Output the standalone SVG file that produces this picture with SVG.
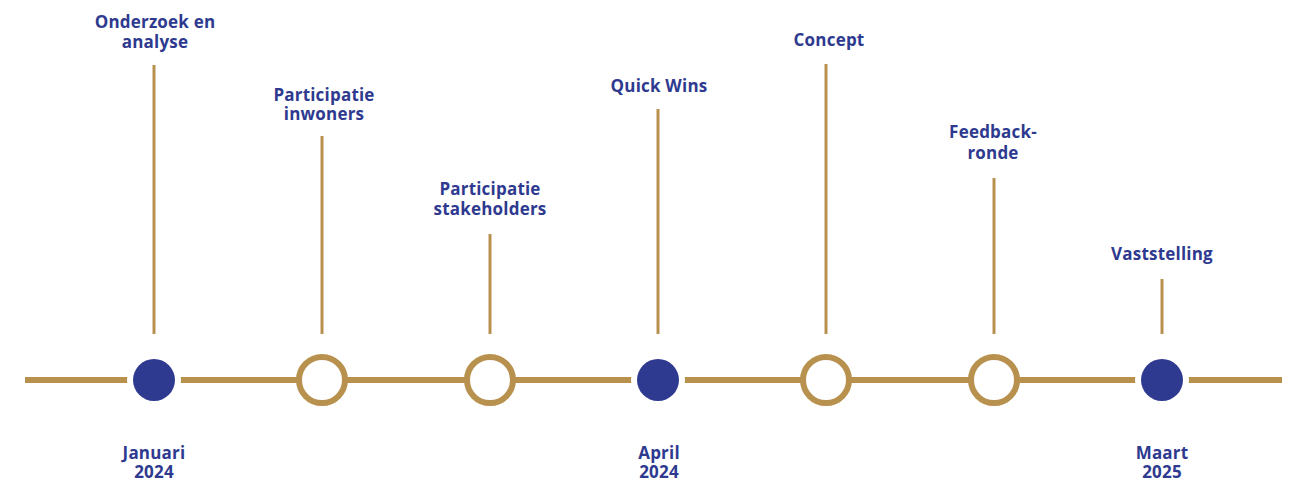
<svg xmlns="http://www.w3.org/2000/svg" width="1290" height="482" viewBox="0 0 1290 482">
<style>
.lbl{font-family:"Open Sans","Liberation Sans",sans-serif;font-weight:700;font-size:17px;letter-spacing:0.2px;fill:#2e3a8f;text-anchor:middle}
.stem{stroke:#b8914f;stroke-width:3}
.axis{stroke:#b8914f;stroke-width:6}
.dot{fill:#2e3a8f}
.ring{fill:#fff;stroke:#b8914f;stroke-width:6}
.gap{fill:#fff}
</style>
<rect width="1290" height="482" fill="#fff"/>
<g id="connectors">
<line class="axis" x1="25" y1="380" x2="1282" y2="380"/>
<line class="stem" x1="154" y1="65" x2="154" y2="334"/>
<line class="stem" x1="322" y1="136" x2="322" y2="334"/>
<line class="stem" x1="490" y1="234" x2="490" y2="334"/>
<line class="stem" x1="658" y1="109" x2="658" y2="334"/>
<line class="stem" x1="826" y1="64" x2="826" y2="334"/>
<line class="stem" x1="994" y1="178" x2="994" y2="334"/>
<line class="stem" x1="1162" y1="279" x2="1162" y2="334"/>
</g>
<g id="n1">
<circle class="gap" cx="154" cy="380" r="27"/>
<circle class="dot" cx="154" cy="380" r="21"/>
<text class="lbl" x="155" y="28">Onderzoek en</text>
<text class="lbl" x="155" y="48">analyse</text>
<text class="lbl" x="154" y="459">Januari</text>
<text class="lbl" x="154" y="478">2024</text>
</g>
<g id="n2">
<circle class="ring" cx="322" cy="380" r="23"/>
<text class="lbl" x="324" y="101">Participatie</text>
<text class="lbl" x="324" y="120">inwoners</text>
</g>
<g id="n3">
<circle class="ring" cx="490" cy="380" r="23"/>
<text class="lbl" x="490" y="195">Participatie</text>
<text class="lbl" x="490" y="215">stakeholders</text>
</g>
<g id="n4">
<circle class="gap" cx="658" cy="380" r="27"/>
<circle class="dot" cx="658" cy="380" r="21"/>
<text class="lbl" x="659" y="92">Quick Wins</text>
<text class="lbl" x="659" y="459">April</text>
<text class="lbl" x="659" y="478">2024</text>
</g>
<g id="n5">
<circle class="ring" cx="826" cy="380" r="23"/>
<text class="lbl" x="829" y="46">Concept</text>
</g>
<g id="n6">
<circle class="ring" cx="994" cy="380" r="23"/>
<text class="lbl" x="993" y="138">Feedback-</text>
<text class="lbl" x="993" y="159">ronde</text>
</g>
<g id="n7">
<circle class="gap" cx="1162" cy="380" r="27"/>
<circle class="dot" cx="1162" cy="380" r="21"/>
<text class="lbl" x="1162" y="260">Vaststelling</text>
<text class="lbl" x="1162" y="459">Maart</text>
<text class="lbl" x="1162" y="478">2025</text>
</g>
</svg>
